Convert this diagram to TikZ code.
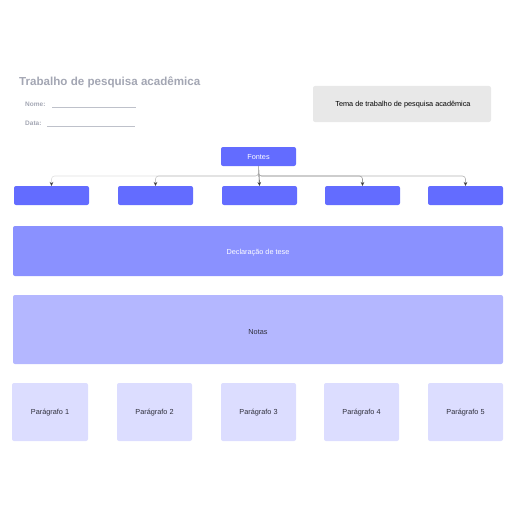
\documentclass[tikz,border=0pt]{standalone}
\usepackage{fontspec}
\setmainfont{Liberation Sans}
\usetikzlibrary{arrows.meta}
\definecolor{titlegray}{HTML}{A3A6B3}
\definecolor{themefill}{HTML}{E8E8E8}
\definecolor{blueA}{HTML}{636CFF}
\definecolor{blueB}{HTML}{8A91FF}
\definecolor{blueC}{HTML}{B4B7FF}
\definecolor{blueD}{HTML}{DCDDFF}
\definecolor{txtdark}{HTML}{2E2E3A}
\begin{document}
\begin{tikzpicture}[x=1pt,y=-1pt,
  lbl/.style={font=\fontsize{7.3}{8}\selectfont},
  conn/.style={-{Stealth[length=4pt,width=3.5pt,color=black!75]}, line width=0.6pt, rounded corners=3pt}
]
\useasboundingbox (0,0) rectangle (516,516);
% header
\node[anchor=west, text=titlegray, inner sep=0pt, font=\bfseries\fontsize{11.6}{13}\selectfont] (title) at (19,82.5) {Trabalho de pesquisa acadêmica};
\node[anchor=west, text=titlegray, font=\bfseries\fontsize{6.5}{8}\selectfont, inner sep=0pt] (nome) at (25,104) {Nome:};
\coordinate (nomeA) at (52,107); \coordinate (nomeB) at (136,107);
\draw[titlegray!70, line width=0.5pt] (nomeA) -- (nomeB);
\node[anchor=west, text=titlegray, font=\bfseries\fontsize{6.5}{8}\selectfont, inner sep=0pt] (data) at (25,123) {Data:};
\coordinate (dataA) at (47,126); \coordinate (dataB) at (135,126);
\draw[titlegray!70, line width=0.5pt] (dataA) -- (dataB);
% theme box
\fill[themefill, rounded corners=2pt] (313,86) rectangle (491,122);
\node[lbl, text=black] (tema) at (403,105) {Tema de trabalho de pesquisa acadêmica};
% Fontes
\fill[blueA, rounded corners=2pt] (221,147) rectangle (296,166);
\node[lbl, text=white] (fontes) at (258.5,157.5) {Fontes};
\coordinate (fb) at (258.5,166);
% children
\foreach \i/\xa/\xb in {1/14/89, 2/118/193, 3/222/297, 4/325/400, 5/428/503}{
  \fill[blueA, rounded corners=2pt] (\xa,186) rectangle (\xb,205);
  \coordinate (c\i) at ({(\xa+\xb)/2},186);
}
\draw[conn, draw=gray!25] (fb) |- (151.5,176) -| (c1);
\draw[conn, draw=gray!45] (fb) |- (200,176) -| (c2);
\draw[conn, draw=black!80] (fb) -- (c3);
\draw[conn, draw=gray!80] (fb) |- (300,176) -| (c4);
\draw[conn, draw=gray!60] (fb) |- (400,176) -| (c5);
% thesis
\fill[blueB, rounded corners=2pt] (13,226) rectangle (503,276);
\node[lbl, text=white] (tese) at (258,253) {Declaração de tese};
% notes
\fill[blueC, rounded corners=2pt] (13,295) rectangle (503,364);
\node[lbl, text=txtdark] (notas) at (258,332) {Notas};
% paragraphs
\foreach \i/\xa/\xb in {1/12/88, 2/117/192, 3/221/296, 4/324/399, 5/428/503}{
  \fill[blueD, rounded corners=2pt] (\xa,383) rectangle (\xb,441);
  \node[lbl, text=txtdark] (p\i) at ({(\xa+\xb)/2},413) {Parágrafo \i};
}
\end{tikzpicture}
\end{document}
